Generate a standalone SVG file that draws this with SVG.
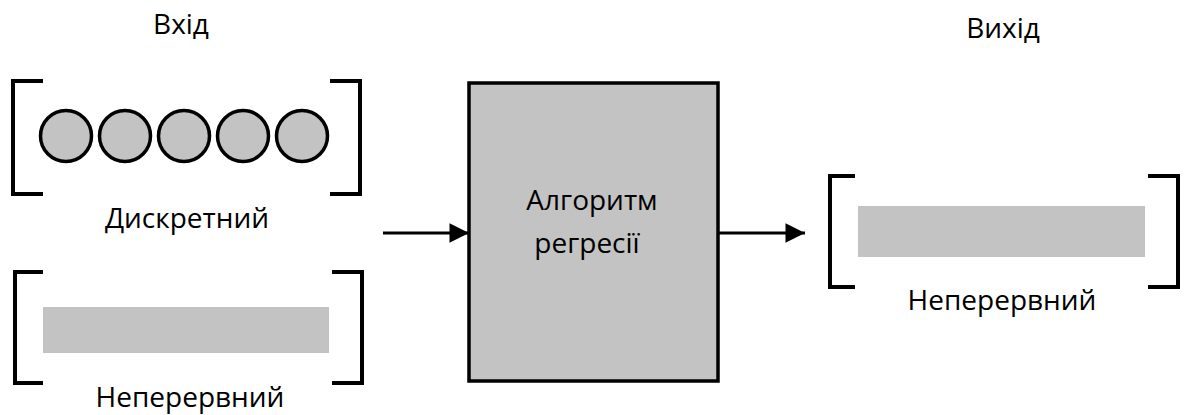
<svg xmlns="http://www.w3.org/2000/svg" width="1189" height="415" viewBox="0 0 1189 415">
  <style>
    .lbl { font-family: "Open Sans", "Noto Sans", sans-serif; font-size: 28px; fill: #000; text-anchor: middle; }
    .br { fill: none; stroke: #000; stroke-width: 4; stroke-linecap: butt; }
    .dot { fill: #c3c3c3; stroke: #000; stroke-width: 3.5; }
    .bar { fill: #c3c3c3; }
    .link { stroke: #000; stroke-width: 3; fill: none; }
  </style>
  <defs>
    <marker id="arrow" viewBox="0 0 10 10" refX="10" refY="5" markerWidth="7.5" markerHeight="6.5" markerUnits="strokeWidth" orient="auto">
      <path d="M0,0 L10,5 L0,10 Z" fill="#000"/>
    </marker>
  </defs>
  <rect width="1189" height="415" fill="#fff"/>

  <text class="lbl" x="181" y="34">Вхід</text>
  <text class="lbl" x="1003" y="38">Вихід</text>

  <g id="input-discrete">
    <path class="br" d="M43,81 H13 V194 H43"/>
    <path class="br" d="M330,81 H360 V194 H330"/>
    <circle class="dot" cx="66" cy="136" r="25.5"/>
    <circle class="dot" cx="125" cy="136" r="25.5"/>
    <circle class="dot" cx="184" cy="136" r="25.5"/>
    <circle class="dot" cx="243" cy="136" r="25.5"/>
    <circle class="dot" cx="302" cy="136" r="25.5"/>
    <text class="lbl" x="187" y="228">Дискретний</text>
  </g>

  <g id="input-continuous">
    <path class="br" d="M43,272 H15 V383 H43"/>
    <path class="br" d="M332,272 H362 V383 H332"/>
    <rect class="bar" x="43" y="307" width="286" height="46"/>
    <text class="lbl" x="190" y="407">Неперервний</text>
  </g>

  <g id="algorithm">
    <rect x="469" y="83" width="249" height="298" fill="#c3c3c3" stroke="#000" stroke-width="3.5"/>
    <text class="lbl" x="592" y="210">Алгоритм</text>
    <text class="lbl" x="587" y="253">регресії</text>
  </g>

  <g id="output-continuous">
    <path class="br" d="M855,176 H830 V287 H855"/>
    <path class="br" d="M1148,176 H1178 V287 H1148"/>
    <rect class="bar" x="858" y="206" width="287" height="51"/>
    <text class="lbl" x="1002" y="310">Неперервний</text>
  </g>

  <g id="connectors">
    <line class="link" x1="383" y1="233" x2="469" y2="233" marker-end="url(#arrow)"/>
    <line class="link" x1="718" y1="233" x2="805" y2="233" marker-end="url(#arrow)"/>
  </g>
</svg>
